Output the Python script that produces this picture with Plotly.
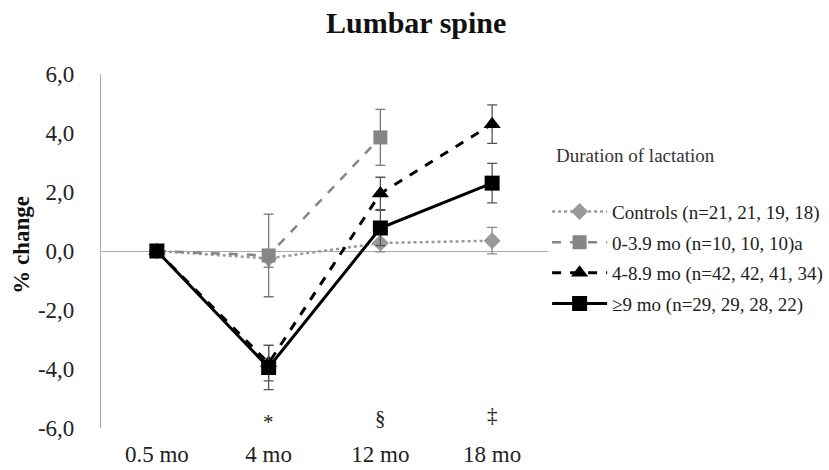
import plotly.graph_objects as go

# Time points and mean % change in lumbar spine BMD per group
timepoints = ["0.5 mo", "4 mo", "12 mo", "18 mo"]

controls = [0.0, -0.25, 0.27, 0.35]
controls_err = [0.0, 0.3, 0.3, 0.45]

dur_0_39 = [0.0, -0.15, 3.85, None]
dur_0_39_err = [0.0, 1.4, 0.95, 0.0]

dur_4_89 = [0.0, -3.8, 1.95, 4.3]
dur_4_89_err = [0.0, 0.6, 0.55, 0.65]

dur_9 = [0.0, -3.95, 0.78, 2.3]
dur_9_err = [0.0, 0.75, 0.6, 0.67]

series_names = [
    "Controls (n=21, 21, 19, 18)",
    "0-3.9 mo (n=10, 10, 10)a",
    "4-8.9 mo (n=42, 42, 41, 34)",
    "\u22659 mo (n=29, 29, 28, 22)",
]

sig_marks = ["", "*", "\u00a7", "\u2021"]
sig_levels = [None, -5.8, -5.65, -5.55]

y_ticks = [-6, -4, -2, 0, 2, 4, 6]
y_tick_text = ["-6,0", "-4,0", "-2,0", "0,0", "2,0", "4,0", "6,0"]

FONT = '"Liberation Serif", "Times New Roman", serif'

fig = go.Figure()

styles = [
    dict(y=controls, err=controls_err, color="#999999", dash="dot", width=2.5,
         symbol="diamond", size=13, ecolor="#8a8a8a"),
    dict(y=dur_0_39, err=dur_0_39_err, color="#868686", dash="dash", width=2.5,
         symbol="square", size=14, ecolor="#777777"),
    dict(y=dur_4_89, err=dur_4_89_err, color="#000000", dash="dash", width=3,
         symbol="triangle-up", size=15, ecolor="#555555"),
    dict(y=dur_9, err=dur_9_err, color="#000000", dash="solid", width=3,
         symbol="square", size=15, ecolor="#555555"),
]

for i, (name, s) in enumerate(zip(series_names, styles)):
    fig.add_trace(go.Scatter(
        x=timepoints, y=s["y"], name=name, mode="lines+markers",
        line=dict(color=s["color"], dash=s["dash"], width=s["width"]),
        marker=dict(symbol=s["symbol"], size=s["size"], color=s["color"]),
        error_y=dict(type="data", array=s["err"], visible=True,
                     color=s["ecolor"], thickness=1.3, width=5),
        legendgroup=f"g{i}",
        connectgaps=False,
    ))

# significance symbols under each time point
for tp, mark, lvl in zip(timepoints, sig_marks, sig_levels):
    if mark:
        fig.add_annotation(x=tp, y=lvl, text=mark, showarrow=False,
                           font=dict(family=FONT, size=21, color="#222222"))

fig.add_annotation(
    xref="paper", yref="paper", x=1.014, y=0.771, xanchor="left", yanchor="middle",
    text="Duration of lactation", showarrow=False,
    font=dict(family=FONT, size=19, color="#333333"),
)

# y-axis title
fig.add_annotation(
    xref="paper", yref="paper", x=-0.177, y=0.517, xanchor="center", yanchor="middle",
    text="<b>% change</b>", textangle=-90, showarrow=False,
    font=dict(family=FONT, size=23, color="#111111"),
)

fig.update_layout(
    width=829, height=470,
    margin=dict(l=101, r=281, t=74, b=42, autoexpand=False),
    paper_bgcolor="white", plot_bgcolor="white",
    title=dict(text="<b>Lumbar spine</b>", x=0.502, xanchor="center",
               y=0.953, yanchor="middle",
               font=dict(family=FONT, size=30, color="#111111")),
    font=dict(family=FONT, size=23, color="#222222"),
    showlegend=True,
    legend=dict(x=0.998, y=0.665, xanchor="left", yanchor="top",
                traceorder="grouped", tracegroupgap=3, itemwidth=55,
                font=dict(family=FONT, size=19, color="#222222"),
                bgcolor="rgba(0,0,0,0)"),
    xaxis=dict(type="category", range=[-0.5, 3.5], showgrid=False,
               showline=False, zeroline=False, ticks="", automargin=False,
               ticklabelstandoff=10,
               tickfont=dict(family=FONT, size=23, color="#222222")),
    yaxis=dict(range=[-6, 6], tickvals=y_ticks, ticktext=y_tick_text,
               showgrid=False, showline=True, linecolor="#aaaaaa", linewidth=1.2,
               zeroline=True, zerolinecolor="#aaaaaa", zerolinewidth=1.2,
               ticks="", ticklabelstandoff=21, automargin=False,
               tickfont=dict(family=FONT, size=23, color="#222222")),
)

fig.write_html("out.html")
